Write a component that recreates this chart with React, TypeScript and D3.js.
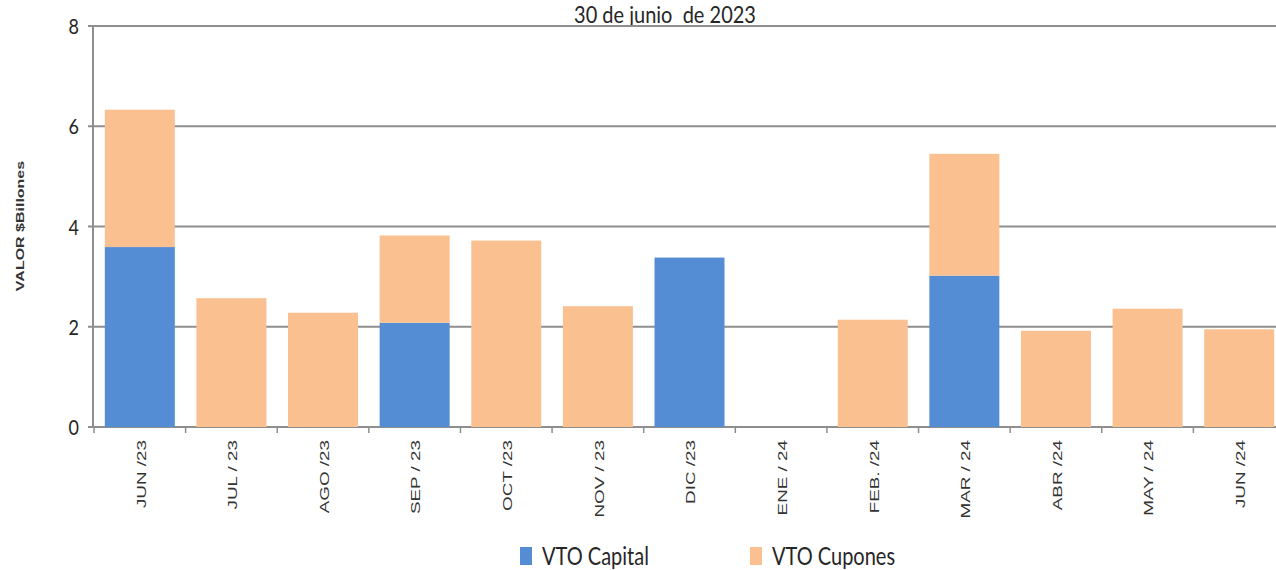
import React from "react";
import * as d3 from "d3";

const months = [
  "JUN /23", "JUL / 23", "AGO /23", "SEP / 23", "OCT /23", "NOV / 23", "DIC /23",
  "ENE / 24", "FEB. /24", "MAR / 24", "ABR /24", "MAY / 24", "JUN /24",
];
const vtoCapital = [3.59, 0, 0, 2.08, 0, 0, 3.38, 0, 0, 3.02, 0, 0, 0];
const vtoCupones = [2.74, 2.57, 2.28, 1.74, 3.72, 2.41, 0, 0, 2.14, 2.43, 1.92, 2.36, 1.95];
const yTicks = [0, 2, 4, 6, 8];
const seriesNames = ["VTO Capital", "VTO Cupones"];
const seriesColors = ["#548dd4", "#fac090"];

const W = 1276;
const H = 570;

export default function App() {
  const x = d3.scaleBand<string>().domain(months).range([94, 1285]).paddingInner(0.236).paddingOuter(0.118);
  const y = d3.scaleLinear().domain([0, 8]).range([427, 26]);

  const rows = months.map((m, i) => ({ month: m, capital: vtoCapital[i], cupones: vtoCupones[i] }));
  const stacked = d3.stack<any>().keys(["capital", "cupones"])(rows);

  const axisX = 93;
  const gridColor = "#8e8e8e";

  return (
    <svg width={W} height={H} style={{ position: "absolute", left: 0, top: 0, background: "#fff" }}>
      {/* title */}
      <text x={665} y={0} textAnchor="middle" fontFamily="Lato" fontSize={20} fill="#262626"
        transform="translate(0,23) scale(1,1.12)" style={{ whiteSpace: "pre" }}>
        {"30 de junio  de 2023"}
      </text>

      {/* gridlines */}
      {yTicks.map((t) => (
        <g key={t}>
          <line x1={88} x2={W} y1={y(t)} y2={y(t)} stroke={gridColor} strokeWidth={2} />
          <text x={79} y={y(t)} textAnchor="end" dominantBaseline="central" fontFamily="Lato" fontSize={18}
            fill="#262626" transform={`translate(79,${y(t)}) scale(1,1.15) translate(-79,${-y(t)})`}>
            {t}
          </text>
        </g>
      ))}

      {/* y axis line */}
      <line x1={axisX} x2={axisX} y1={y(8)} y2={y(0) + 1} stroke={gridColor} strokeWidth={2} />

      {/* y axis title */}
      <text fontFamily="Liberation Sans, Arial" fontWeight="bold" fontSize={10} fill="#333" textAnchor="middle"
        dominantBaseline="central" transform={`translate(21,226) rotate(-90) scale(1.6,1)`}>
        VALOR $Billones
      </text>

      {/* stacked bars */}
      {stacked.map((s, si) => (
        <g key={s.key} fill={seriesColors[si]}>
          {s.map((d, i) =>
            d[1] - d[0] > 0 ? (
              <rect key={i} x={x(months[i])} width={x.bandwidth()} y={y(d[1])} height={y(d[0]) - y(d[1])} />
            ) : null
          )}
        </g>
      ))}

      {/* category ticks */}
      {months.map((m) => {
        const bx = (x(m) as number) - (x.step() * x.paddingInner()) / 2;
        return <line key={m} x1={bx} x2={bx} y1={y(0)} y2={y(0) + 6} stroke={gridColor} strokeWidth={1.5} />;
      })}

      {/* category labels */}
      {months.map((m) => {
        const cx = (x(m) as number) + x.bandwidth() / 2 + 1;
        return (
          <text key={m} fontFamily="Liberation Sans, Arial" fontSize={13} fill="#333" textAnchor="end"
            dominantBaseline="central" transform={`translate(${cx},440) rotate(-90) scale(1.45,1)`}>
            {m}
          </text>
        );
      })}

      {/* legend */}
      {seriesNames.map((n, i) => {
        const lx = [520, 750][i];
        return (
          <g key={n}>
            <rect x={lx} y={547} width={12} height={18} fill={seriesColors[i]} />
            <text x={lx + 22} y={0} fontFamily="Lato" fontSize={20} fill="#262626"
              transform="translate(0,565) scale(1,1.25)">
              {n}
            </text>
          </g>
        );
      })}
    </svg>
  );
}
